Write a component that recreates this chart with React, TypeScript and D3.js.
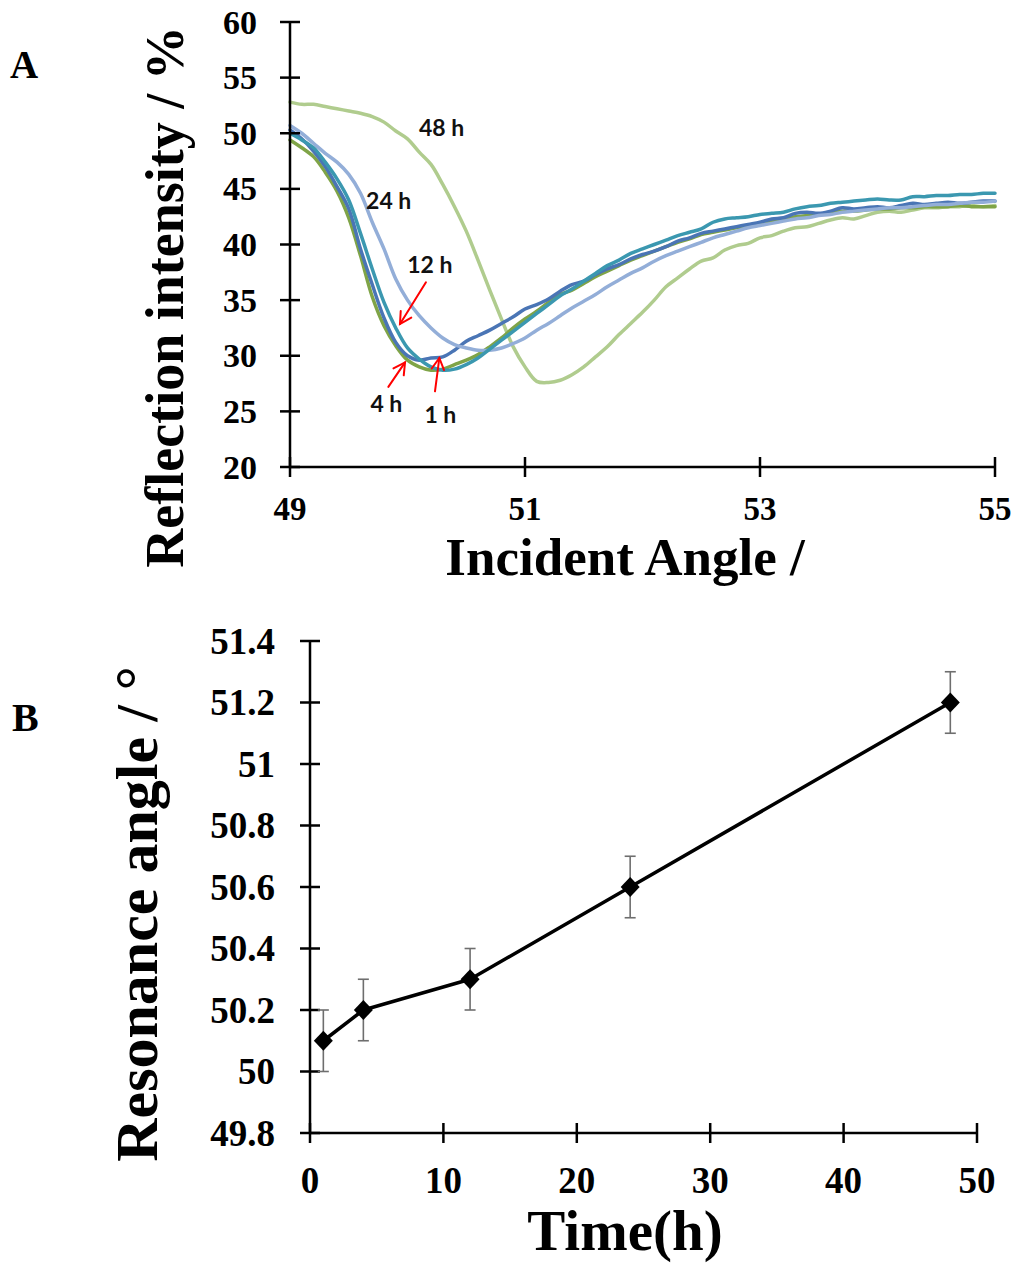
import React from "react";
import * as d3 from "d3";

// ---------- Panel A data ----------
const ANGLES = [
  49.0, 49.1, 49.2, 49.3, 49.4, 49.5, 49.6, 49.7, 49.8, 49.9,
  50.0, 50.1, 50.2, 50.3, 50.4, 50.5, 50.6, 50.7, 50.8, 50.9,
  51.0, 51.1, 51.2, 51.3, 51.4, 51.5, 51.6, 51.7, 51.8, 51.9,
  52.0, 52.1, 52.2, 52.3, 52.4, 52.5, 52.6, 52.7, 52.8, 52.9,
  53.0, 53.1, 53.2, 53.3, 53.4, 53.5, 53.6, 53.7, 53.8, 53.9,
  54.0, 54.1, 54.2, 54.3, 54.4, 54.5, 54.6, 54.7, 54.8, 54.9, 55.0,
];

const R_1H = [
  50.3, 49.5, 48.4, 47.0, 45.2, 43.2, 39.6, 36.4, 33.4, 31.2,
  30.0, 29.6, 29.8, 29.9, 30.5, 31.3, 31.8, 32.3, 32.9, 33.5,
  34.2, 34.6, 35.1, 35.8, 36.4, 36.7, 37.3, 37.8, 38.2, 38.7,
  39.1, 39.4, 39.8, 40.3, 40.6, 41.0, 41.2, 41.4, 41.6, 41.8,
  42.0, 42.3, 42.4, 42.8, 42.9, 42.8, 43.0, 43.3, 43.2, 43.3,
  43.4, 43.3, 43.5, 43.7, 43.6, 43.7, 43.8, 43.7, 43.8, 43.9, 43.9,
];

const R_4H = [
  49.4, 48.7, 47.9, 46.5, 44.8, 42.4, 39.0, 35.3, 32.7, 30.9,
  29.6, 29.0, 28.7, 28.8, 29.2, 29.6, 30.1, 30.8, 31.6, 32.5,
  33.3, 34.0, 34.8, 35.5, 35.9, 36.5, 37.1, 37.6, 38.1, 38.6,
  39.0, 39.4, 39.8, 40.2, 40.5, 40.9, 41.1, 41.3, 41.5, 41.6,
  41.9, 42.1, 42.3, 42.5, 42.6, 42.7, 42.9, 43.0, 43.0, 43.1,
  43.2, 43.2, 43.3, 43.3, 43.4, 43.4, 43.4, 43.5, 43.4, 43.4, 43.4,
];

const R_12H = [
  50.0, 49.4, 48.7, 47.4, 45.9, 44.0, 41.0, 37.8, 34.8, 32.5,
  30.7, 29.7, 29.0, 28.7, 28.8, 29.2, 29.8, 30.6, 31.4, 32.2,
  33.0, 33.8, 34.6, 35.4, 36.0, 36.7, 37.4, 38.1, 38.6, 39.2,
  39.6, 40.0, 40.4, 40.8, 41.1, 41.4, 42.0, 42.3, 42.4, 42.5,
  42.7, 42.8, 42.9, 43.2, 43.4, 43.5, 43.7, 43.8, 43.9, 44.0,
  44.1, 44.0, 44.0, 44.3, 44.3, 44.4, 44.4, 44.5, 44.5, 44.6, 44.6,
];

const R_24H = [
  50.7, 50.0, 49.1, 48.2, 47.4, 46.3, 44.6, 42.0, 39.6, 36.9,
  35.0, 33.6, 32.5, 31.6, 31.0, 30.7, 30.5, 30.5, 30.7, 31.1,
  31.6, 32.3, 32.9, 33.6, 34.3, 34.9, 35.5, 36.2, 36.8, 37.4,
  37.9, 38.5, 39.0, 39.4, 39.8, 40.2, 40.6, 40.9, 41.2, 41.5,
  41.7, 41.9, 42.1, 42.3, 42.4, 42.6, 42.7, 42.9, 43.0, 43.1,
  43.2, 43.3, 43.3, 43.4, 43.5, 43.6, 43.6, 43.7, 43.8, 43.8, 43.9,
];

const R_48H = [
  52.8, 52.6, 52.6, 52.4, 52.2, 52.0, 51.8, 51.5, 51.0, 50.2,
  49.5, 48.3, 47.2, 45.4, 43.4, 41.2, 38.6, 35.9, 33.3, 30.8,
  29.0, 27.7, 27.6, 27.8, 28.3, 29.0, 29.9, 30.8, 31.9, 32.9,
  33.9, 35.0, 36.2, 37.0, 37.8, 38.5, 38.8, 39.5, 39.9, 40.1,
  40.6, 40.8, 41.2, 41.5, 41.6, 41.9, 42.2, 42.4, 42.3, 42.6,
  42.9, 43.0, 42.9, 43.1, 43.3, 43.3, 43.4, 43.4, 43.5, 43.4, 43.5,
];

const SERIES_NAMES = ["48 h", "4 h", "1 h", "24 h", "12 h"];
const SERIES_VALUES = [R_48H, R_4H, R_1H, R_24H, R_12H];
const SERIES_COLORS = ["#B0CC8E", "#7FA447", "#4A75B5", "#93AED8", "#3B98B0"];

const A_Y_TICKS = [20, 25, 30, 35, 40, 45, 50, 55, 60];
const A_X_TICKS = [49, 51, 53, 55];

// annotation labels [angle, intensity]
const LABEL_TEXT = ["48 h", "24 h", "12 h", "4 h", "1 h"];
const LABEL_X = [50.29, 49.84, 50.19, 49.82, 50.28];
const LABEL_Y = [50.5, 43.9, 38.2, 25.7, 24.7];

// red arrows: tail -> head in data units
const ARROW_TAIL_X = [50.157, 49.837, 50.234];
const ARROW_TAIL_Y = [36.6, 27.2, 26.8];
const ARROW_HEAD_X = [49.936, 49.979, 50.271];
const ARROW_HEAD_Y = [32.85, 29.4, 29.8];

// ---------- Panel B data ----------
const TIMES = [1, 4, 12, 24, 48];
const RES_ANGLE = [50.1, 50.2, 50.3, 50.6, 51.2];
const RES_ERR = [0.1, 0.1, 0.1, 0.1, 0.1];
const B_Y_TICKS = [49.8, 50, 50.2, 50.4, 50.6, 50.8, 51, 51.2, 51.4];
const B_Y_LABELS = ["49.8", "50", "50.2", "50.4", "50.6", "50.8", "51", "51.2", "51.4"];
const B_X_TICKS = [0, 10, 20, 30, 40, 50];

const SERIF = "'Times New Roman', 'Liberation Serif', serif";
const SANS = "Lato, 'Open Sans', sans-serif";

export default function App() {
  const xA = d3.scaleLinear().domain([49, 55]).range([290, 995]);
  const yA = d3.scaleLinear().domain([20, 60]).range([467, 22]);
  const xB = d3.scaleLinear().domain([0, 50]).range([310, 977]);
  const yB = d3.scaleLinear().domain([49.8, 51.4]).range([1133, 641]);

  const lineA = d3
    .line<number>()
    .x((_, i) => xA(ANGLES[i]))
    .y((d) => yA(d))
    .curve(d3.curveCatmullRom.alpha(0.5));

  const lineB = d3
    .line<number>()
    .x((_, i) => xB(TIMES[i]))
    .y((d) => yB(d));

  const arrows = ARROW_TAIL_X.map((_, i) => {
    const x1 = xA(ARROW_TAIL_X[i]);
    const y1 = yA(ARROW_TAIL_Y[i]);
    const x2 = xA(ARROW_HEAD_X[i]);
    const y2 = yA(ARROW_HEAD_Y[i]);
    const ang = Math.atan2(y2 - y1, x2 - x1);
    const L = 13;
    const a1 = ang + Math.PI - 0.5;
    const a2 = ang + Math.PI + 0.5;
    return {
      x1, y1, x2, y2,
      h1x: x2 + L * Math.cos(a1), h1y: y2 + L * Math.sin(a1),
      h2x: x2 + L * Math.cos(a2), h2y: y2 + L * Math.sin(a2),
    };
  });

  const axisStroke = 2.5;

  return (
    <svg
      width={1017}
      height={1265}
      style={{ position: "absolute", left: 0, top: 0, background: "#fff" }}
    >
      <rect x={0} y={0} width={1017} height={1265} fill="#fff" />

      {/* ===== Panel A ===== */}
      <text x={10} y={78} fontFamily={SERIF} fontWeight="bold" fontSize={39}>A</text>

      {SERIES_VALUES.map((vals, i) => (
        <path
          key={SERIES_NAMES[i]}
          d={lineA(vals) || ""}
          fill="none"
          stroke={SERIES_COLORS[i]}
          strokeWidth={3.5}
          strokeLinejoin="round"
          strokeLinecap="round"
        />
      ))}

      {/* axes A */}
      <line x1={xA(49)} x2={xA(49)} y1={yA(60)} y2={yA(20)} stroke="#000" strokeWidth={axisStroke} />
      <line x1={xA(49)} x2={xA(55)} y1={yA(20)} y2={yA(20)} stroke="#000" strokeWidth={axisStroke} />
      {A_Y_TICKS.map((t) => (
        <g key={"ay" + t}>
          <line x1={xA(49) - 10} x2={xA(49) + 10} y1={yA(t)} y2={yA(t)} stroke="#000" strokeWidth={axisStroke} />
          <text x={257} y={yA(t)} dy="0.34em" textAnchor="end" fontFamily={SERIF} fontWeight="bold" fontSize={34}>
            {t}
          </text>
        </g>
      ))}
      {A_X_TICKS.map((t) => (
        <g key={"ax" + t}>
          <line x1={xA(t)} x2={xA(t)} y1={yA(20) - 10} y2={yA(20) + 10} stroke="#000" strokeWidth={axisStroke} />
          <text x={xA(t)} y={520} textAnchor="middle" fontFamily={SERIF} fontWeight="bold" fontSize={33}>
            {t}
          </text>
        </g>
      ))}
      <text x={625} y={575} textAnchor="middle" fontFamily={SERIF} fontWeight="bold" fontSize={53}>
        Incident Angle /
      </text>
      <text
        transform="translate(183,297) rotate(-90)"
        textAnchor="middle"
        fontFamily={SERIF}
        fontWeight="bold"
        fontSize={54}
      >
        Reflection intensity / %
      </text>

      {/* annotations */}
      {LABEL_TEXT.map((t, i) => (
        <text
          key={"lab" + t}
          x={xA(LABEL_X[i])}
          y={yA(LABEL_Y[i])}
          dy="0.36em"
          textAnchor="middle"
          fontFamily={SANS}
          fontWeight="bold"
          fontSize={23}
          fill="#111"
        >
          {t}
        </text>
      ))}
      {arrows.map((a, i) => (
        <g key={"arr" + i} stroke="#FF0000" strokeWidth={2} fill="none" strokeLinecap="round">
          <line x1={a.x1} y1={a.y1} x2={a.x2} y2={a.y2} />
          <polyline points={`${a.h1x},${a.h1y} ${a.x2},${a.y2} ${a.h2x},${a.h2y}`} />
        </g>
      ))}

      {/* ===== Panel B ===== */}
      <text x={12} y={731} fontFamily={SERIF} fontWeight="bold" fontSize={40}>B</text>

      <line x1={xB(0)} x2={xB(0)} y1={yB(51.4)} y2={yB(49.8)} stroke="#000" strokeWidth={axisStroke} />
      <line x1={xB(0)} x2={xB(50)} y1={yB(49.8)} y2={yB(49.8)} stroke="#000" strokeWidth={axisStroke} />
      {B_Y_TICKS.map((t, i) => (
        <g key={"by" + t}>
          <line x1={xB(0) - 10} x2={xB(0) + 10} y1={yB(t)} y2={yB(t)} stroke="#000" strokeWidth={axisStroke} />
          <text x={275} y={yB(t)} dy="0.34em" textAnchor="end" fontFamily={SERIF} fontWeight="bold" fontSize={37}>
            {B_Y_LABELS[i]}
          </text>
        </g>
      ))}
      {B_X_TICKS.map((t) => (
        <g key={"bx" + t}>
          <line x1={xB(t)} x2={xB(t)} y1={yB(49.8) - 10} y2={yB(49.8) + 10} stroke="#000" strokeWidth={axisStroke} />
          <text x={xB(t)} y={1193} textAnchor="middle" fontFamily={SERIF} fontWeight="bold" fontSize={37}>
            {t}
          </text>
        </g>
      ))}
      <text x={625} y={1250} textAnchor="middle" fontFamily={SERIF} fontWeight="bold" fontSize={57}>
        Time(h)
      </text>
      <text
        transform="translate(157,914) rotate(-90)"
        textAnchor="middle"
        fontFamily={SERIF}
        fontWeight="bold"
        fontSize={60}
      >
        Resonance angle / °
      </text>

      {/* error bars */}
      {TIMES.map((t, i) => {
        const x = xB(t);
        const yt = yB(RES_ANGLE[i] + RES_ERR[i]);
        const yb = yB(RES_ANGLE[i] - RES_ERR[i]);
        return (
          <g key={"eb" + t} stroke="#6e6e6e" strokeWidth={1.6}>
            <line x1={x} x2={x} y1={yt} y2={yb} />
            <line x1={x - 5.5} x2={x + 5.5} y1={yt} y2={yt} />
            <line x1={x - 5.5} x2={x + 5.5} y1={yb} y2={yb} />
          </g>
        );
      })}
      <path d={lineB(RES_ANGLE) || ""} fill="none" stroke="#000" strokeWidth={3.5} strokeLinejoin="round" />
      {TIMES.map((t, i) => {
        const x = xB(t);
        const y = yB(RES_ANGLE[i]);
        const r = 10;
        return (
          <path
            key={"mk" + t}
            d={`M${x},${y - r}L${x + r * 0.95},${y}L${x},${y + r}L${x - r * 0.95},${y}Z`}
            fill="#000"
          />
        );
      })}
    </svg>
  );
}
